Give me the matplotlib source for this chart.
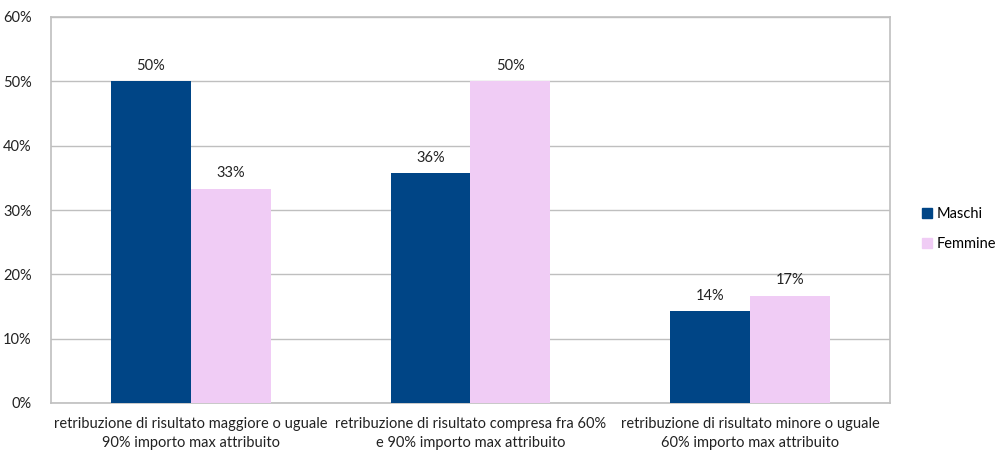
import matplotlib
matplotlib.use("Agg")
import matplotlib.pyplot as plt
import numpy as np
from matplotlib.ticker import FuncFormatter
from matplotlib.patches import Patch

categories = ["retribuzione di risultato maggiore o uguale\n90% importo max attribuito",
              "retribuzione di risultato compresa fra 60%\ne 90% importo max attribuito",
              "retribuzione di risultato minore o uguale\n60% importo max attribuito"]
maschi = [50.0, 35.7, 14.3]
femmine = [33.3, 50.0, 16.7]
series_names = ["Maschi", "Femmine"]
colors = ["#004586", "#F0CCF5"]

plt.rcParams['font.family'] = ['Lato', 'DejaVu Sans']
fig = plt.figure(figsize=(10.04, 4.53), dpi=100)
W, H = 1004, 453
ax = fig.add_axes([51/W, 1-403/H, (890-51)/W, (403-17)/H])

x = np.arange(len(categories))
w = 0.286
b1 = ax.bar(x - w/2, maschi, w, color=colors[0], zorder=3)
b2 = ax.bar(x + w/2, femmine, w, color=colors[1], zorder=3)
for bars, vals in ((b1, maschi), (b2, femmine)):
    for r, v in zip(bars, vals):
        ax.text(r.get_x() + r.get_width()/2, v + 1.3, f"{v:.0f}%", ha='center', va='bottom',
                fontsize=10.5, color='#222222')

ax.set_xlim(-0.5, 2.5)
ax.set_ylim(0, 60)
ax.set_yticks(np.arange(0, 61, 10))
ax.yaxis.set_major_formatter(FuncFormatter(lambda v, p: f"{v:.0f}%"))
ax.set_xticks(x)
ax.set_xticklabels(categories, fontsize=10.5, linespacing=1.45)
ax.tick_params(axis='both', length=0, labelsize=10.5, colors='#222222')
ax.tick_params(axis='x', pad=10)
ax.tick_params(axis='y', pad=14)
ax.grid(axis='y', color='#BFBFBF', linewidth=1, zorder=0)
for s in ax.spines.values():
    s.set_color('#BFBFBF')
    s.set_linewidth(1.2)

handles = [Patch(color=c) for c in colors]
fig.legend(handles, series_names, loc='center left', bbox_to_anchor=(912/W, 1-229/H),
           frameon=False, fontsize=10.5, handlelength=0.7, handleheight=0.7,
           handletextpad=0.3, labelspacing=1.1, borderaxespad=0.3)

fig.savefig("out.png", dpi=100)
